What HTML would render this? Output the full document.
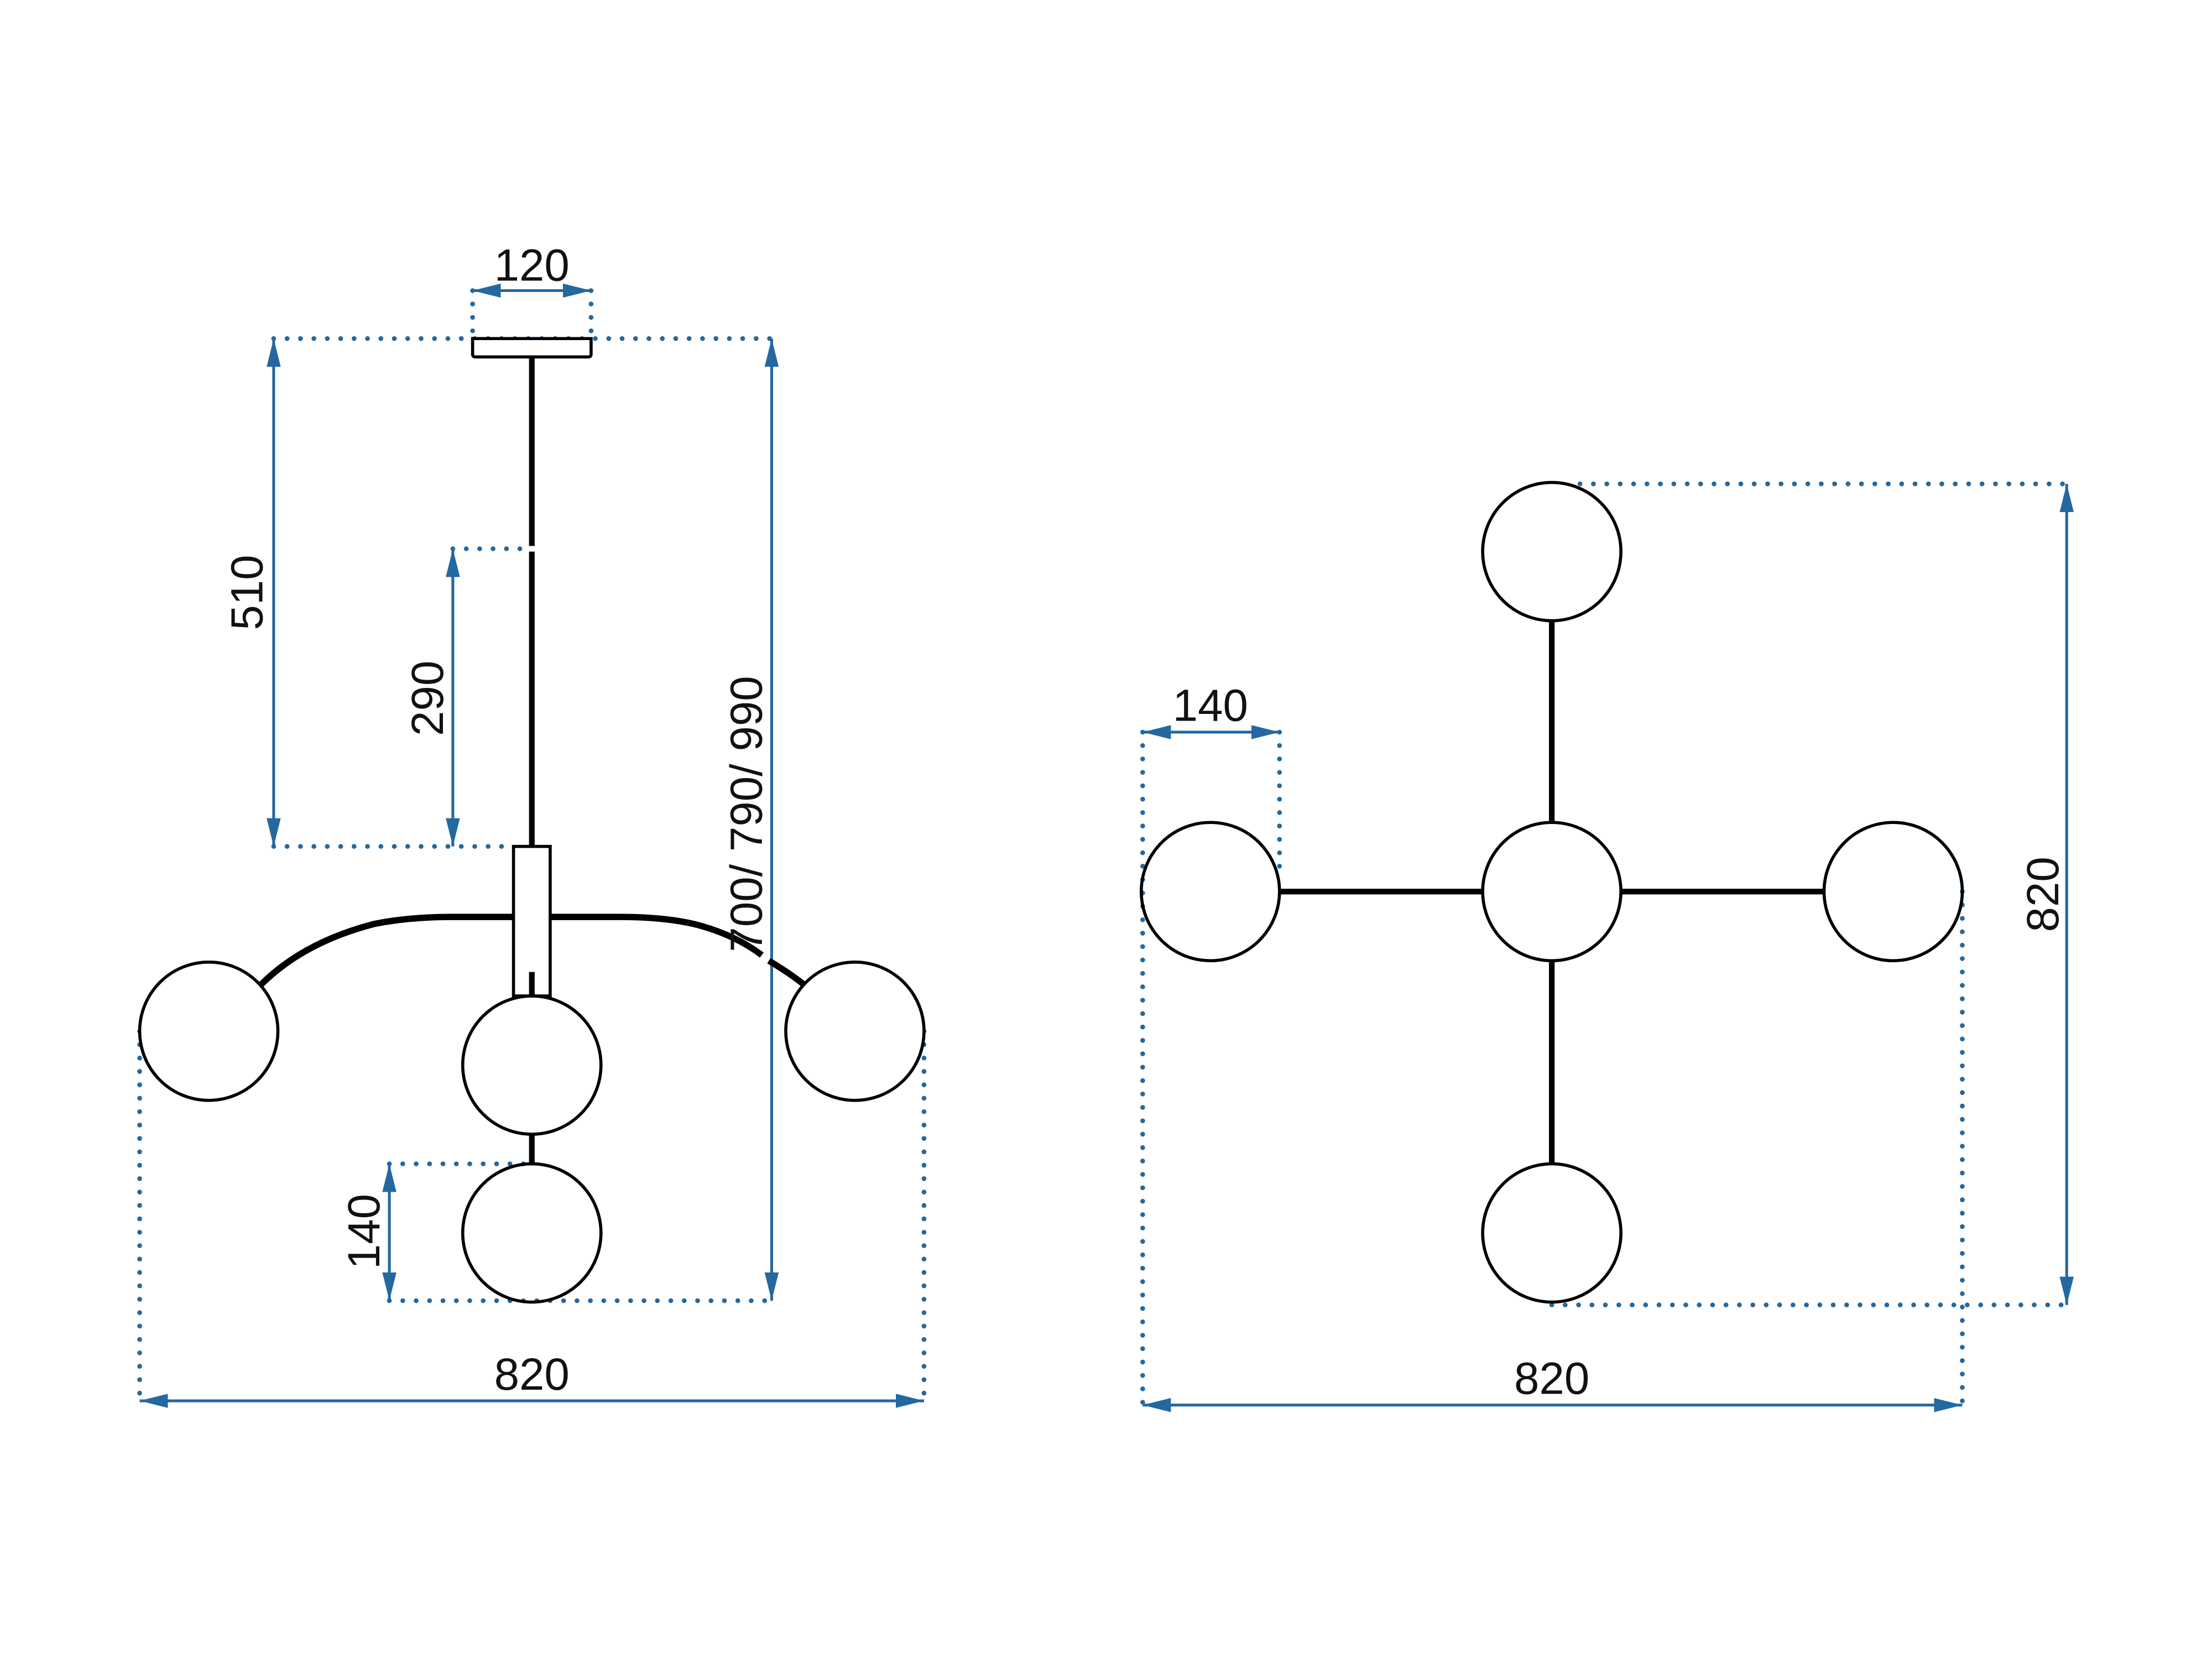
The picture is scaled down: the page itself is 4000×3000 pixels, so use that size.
<!DOCTYPE html>
<html><head><meta charset="utf-8"><style>
html,body{margin:0;padding:0;background:#fff;}
svg{display:block;}
text{font-family:"Liberation Sans",sans-serif;font-size:32px;fill:#111;}
</style></head><body>
<svg width="4000" height="3000" viewBox="0 0 1568 1176" xmlns="http://www.w3.org/2000/svg">
<defs>
<marker id="a" viewBox="0 0 20 10" refX="20" refY="5" markerWidth="20" markerHeight="10" markerUnits="userSpaceOnUse" orient="auto-start-reverse">
<path d="M0,0 L20,5 L0,10 z" fill="#2468a0"/>
</marker>
</defs>
<g fill="none" stroke="#2468a0" stroke-width="3.4" stroke-linecap="round" stroke-dasharray="0 9.5">
<line x1="335" y1="206" x2="335" y2="240"/>
<line x1="419" y1="206" x2="419" y2="240"/>
<line x1="194" y1="240" x2="547" y2="240"/>
<line x1="321" y1="389" x2="372" y2="389"/>
<line x1="194" y1="600" x2="364" y2="600"/>
<line x1="276" y1="825" x2="377" y2="825"/>
<line x1="276" y1="922" x2="547" y2="922"/>
<line x1="99" y1="731" x2="99" y2="993"/>
<line x1="655" y1="731" x2="655" y2="993"/>
<line x1="810" y1="519" x2="810" y2="996"/>
<line x1="907" y1="519" x2="907" y2="620"/>
<line x1="1391" y1="632" x2="1391" y2="996"/>
<line x1="1120" y1="343" x2="1465" y2="343"/>
<line x1="1100" y1="925" x2="1465" y2="925"/>
</g>
<g stroke="#2468a0" stroke-width="2" marker-start="url(#a)" marker-end="url(#a)">
<line x1="335" y1="206" x2="419" y2="206"/>
<line x1="194" y1="240" x2="194" y2="600"/>
<line x1="321" y1="389" x2="321" y2="600"/>
<line x1="276" y1="825" x2="276" y2="922"/>
<line x1="99" y1="993" x2="655" y2="993"/>
<line x1="810" y1="519" x2="907" y2="519"/>
<line x1="810" y1="996" x2="1391" y2="996"/>
<line x1="1465" y1="343" x2="1465" y2="925"/>
<line x1="547" y1="240" x2="547" y2="922"/>
</g>
<g fill="none" stroke="#000">
<path d="M335,240 H419 V251 Q419,253 417,253 H337 Q335,253 335,251 Z" stroke-width="2.2" fill="#fff"/>
<line x1="377" y1="253" x2="377" y2="387" stroke-width="4"/>
<line x1="377" y1="391" x2="377" y2="600" stroke-width="4"/>
<path d="M185,698 Q215,668 265,655 Q290,650 320,650 H364" stroke-width="4.5"/>
<path d="M390,650 H440 Q470,650 492,655 Q520,662 540,677" stroke-width="4.5"/>
<path d="M545,681 Q560,690 570,698" stroke-width="4.5"/>
<rect x="364" y="600" width="26" height="106" stroke-width="2.2" fill="#fff"/>
<line x1="377" y1="689" x2="377" y2="707" stroke-width="4"/>
<line x1="377" y1="804" x2="377" y2="826" stroke-width="4"/>
<circle cx="148" cy="731" r="49" stroke-width="2.2" fill="#fff"/>
<circle cx="606" cy="731" r="49" stroke-width="2.2" fill="#fff"/>
<circle cx="377" cy="755" r="49" stroke-width="2.2" fill="#fff"/>
<circle cx="377" cy="874" r="49" stroke-width="2.2" fill="none"/>
</g>
<g fill="none" stroke="#000">
<line x1="907" y1="632" x2="1051" y2="632" stroke-width="4"/>
<line x1="1149" y1="632" x2="1293" y2="632" stroke-width="4"/>
<line x1="1100" y1="440" x2="1100" y2="583" stroke-width="4"/>
<line x1="1100" y1="681" x2="1100" y2="825" stroke-width="4"/>
<g stroke-width="2.2">
<circle cx="1100" cy="391" r="49"/>
<circle cx="1100" cy="632" r="49"/>
<circle cx="1100" cy="874" r="49"/>
<circle cx="858" cy="632" r="49"/>
<circle cx="1342" cy="632" r="49"/>
</g>
</g>
<g text-anchor="middle">
<text transform="translate(377,199)">120</text>
<text transform="translate(377,985)">820</text>
<text transform="translate(858,511)">140</text>
<text transform="translate(1100,988)">820</text>
<text transform="translate(186,420) rotate(-90)">510</text>
<text transform="translate(314,495) rotate(-90)">290</text>
<text transform="translate(269,873) rotate(-90)">140</text>
<text transform="translate(540,577) rotate(-90)">700/ 790/ 990</text>
<text transform="translate(1459,634) rotate(-90)">820</text>
</g>
</svg>
</body></html>
